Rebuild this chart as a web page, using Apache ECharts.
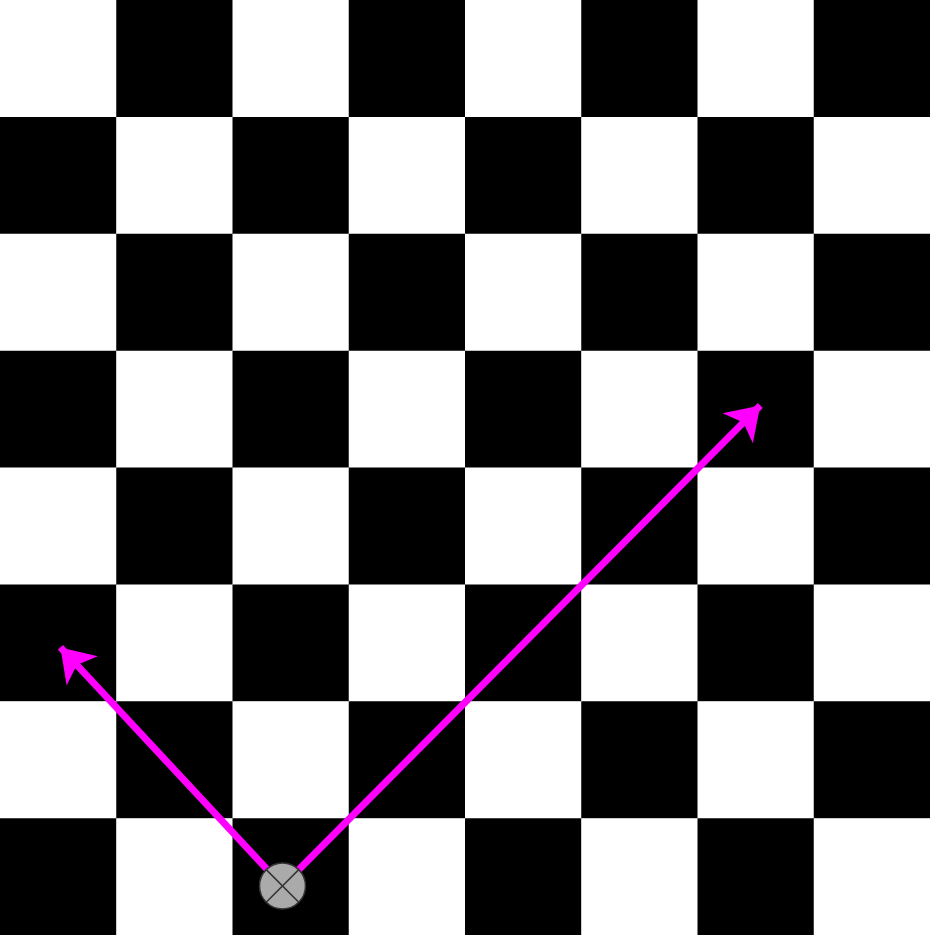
<!DOCTYPE html>
<html><head><meta charset="utf-8">
<script src="https://cdn.jsdelivr.net/npm/echarts@6/dist/echarts.min.js"></script>
<style>html,body{margin:0;padding:0}#c{width:930px;height:935px}</style>
</head><body><div id="c"></div>
<script>
const boardSize = 8;
const squares = [];
for (let r = 0; r < boardSize; r++) for (let c = 0; c < boardSize; c++) squares.push([c, r, (c + r) % 2]);
const origin = [2.43, 0.42];
const arrowTips = [[0.52, 2.46], [6.54, 4.53]];
const chart = echarts.init(document.getElementById('c'));
chart.setOption({
  animation: false,
  grid: {left: 0, right: 0, top: 0, bottom: 0},
  xAxis: {type: 'value', min: 0, max: 8, show: false},
  yAxis: {type: 'value', min: 0, max: 8, show: false},
  series: [
    {type: 'custom', data: squares, renderItem: (p, api) => {
      const c = api.value(0), r = api.value(1);
      const a = api.coord([c, 8 - r]), b = api.coord([c + 1, 7 - r]);
      return {type: 'rect', shape: {x: a[0], y: a[1], width: b[0] - a[0] + 0.5, height: b[1] - a[1] + 0.5},
        style: {fill: api.value(2) ? '#000' : '#fff'}};
    }},
    {type: 'lines', coordinateSystem: 'cartesian2d', z: 5,
      symbol: ['none', 'arrow'], symbolSize: [0, 32],
      lineStyle: {color: '#ff00ff', width: 7, opacity: 1},
      data: arrowTips.map(t => ({coords: [origin, t]}))},
    {type: 'custom', z: 10, data: [origin], renderItem: (p, api) => {
      const pt = api.coord([api.value(0), api.value(1)]), R = 23, d = R * 0.707;
      const st = {stroke: '#333', lineWidth: 1.5};
      return {type: 'group', children: [
        {type: 'circle', shape: {cx: pt[0], cy: pt[1], r: R}, style: {fill: '#aaaaaa', stroke: '#333', lineWidth: 1.5}},
        {type: 'line', shape: {x1: pt[0] - d, y1: pt[1] - d, x2: pt[0] + d, y2: pt[1] + d}, style: st},
        {type: 'line', shape: {x1: pt[0] + d, y1: pt[1] - d, x2: pt[0] - d, y2: pt[1] + d}, style: st}
      ]};
    }}
  ]
});
</script></body></html>
